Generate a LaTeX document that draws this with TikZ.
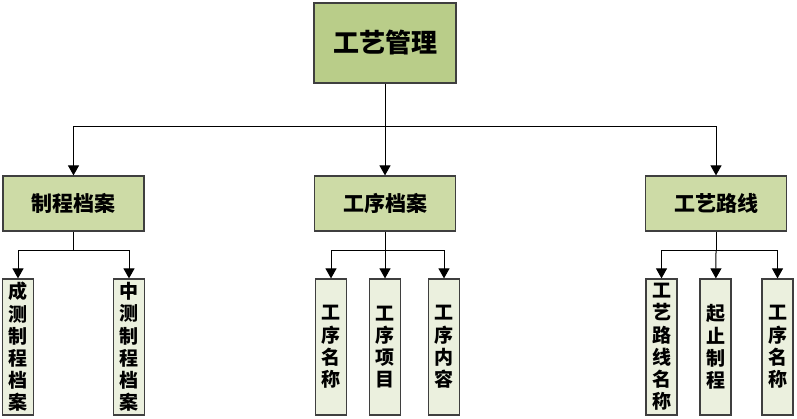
\documentclass[tikz,border=0pt]{standalone}
\usepackage{fontspec}
\newfontfamily\cjk{Noto Sans CJK SC}
\usepackage{tikz}
\usetikzlibrary{arrows.meta}

\definecolor{topgreen}{HTML}{B9CD89}
\definecolor{midgreen}{HTML}{CDDBA6}
\definecolor{leafgreen}{HTML}{EBF0DE}
\definecolor{boxline}{HTML}{3F3F3F}

\begin{document}
\begin{tikzpicture}[x=1pt, y=-1pt, >={Triangle[length=10pt,width=11pt]},
	rootbox/.style={draw=boxline, line width=1.2pt, fill=topgreen, minimum width=142pt, minimum height=80pt, inner sep=0pt, font=\cjk\bfseries\fontsize{26}{30}\selectfont},
	groupbox/.style={draw=boxline, line width=1.2pt, fill=midgreen, minimum width=141pt, minimum height=55pt, inner sep=0pt, font=\cjk\bfseries\fontsize{21}{25}\selectfont},
	leafbox/.style={draw=boxline, line width=1.2pt, fill=leafgreen, minimum width=31pt, minimum height=136pt, inner sep=0pt, align=center, font=\cjk\bfseries\fontsize{19}{22.2}\selectfont},
	link/.style={draw=black, line width=1pt}]
	\useasboundingbox (0,0) rectangle (797,419);

	% Nodes {root, groups, leaves}
	\node [rootbox]  (gygl) at (385,43)    {工艺管理};
	\node [groupbox] (zcda) at (73.5,203.5) {制程档案};
	\node [groupbox] (gxda) at (385,203.5)  {工序档案};
	\node [groupbox] (gylx) at (716,203.5)  {工艺路线};

	\node [leafbox] (ccda) at (18,347)    {成\\测\\制\\程\\档\\案};
	\node [leafbox] (zcdb) at (129,347)   {中\\测\\制\\程\\档\\案};
	\node [leafbox] (gxmc) at (331,347)   {工\\序\\名\\称};
	\node [leafbox] (gxxm) at (385,347)   {工\\序\\项\\目};
	\node [leafbox] (gxnr) at (444,347)   {工\\序\\内\\容};
	\node [leafbox] (lxmc) at (661.5,347) {工\\艺\\路\\线\\名\\称};
	\node [leafbox] (qzzc) at (715.5,347) {起\\止\\制\\程};
	\node [leafbox] (lxgx) at (777.5,347) {工\\序\\名\\称};

	% Branch points
	\coordinate (b0) at (385,127);
	\coordinate (b1) at (73.5,251);
	\coordinate (b2) at (385,251);
	\coordinate (b3) at (716,251);

	% Paths
	\draw [link]    (gygl) -- (b0);
	\draw [link,->] (b0) -| (zcda);
	\draw [link,->] (b0) -- (gxda);
	\draw [link,->] (b0) -| (gylx);

	\draw [link]    (zcda) -- (b1);
	\draw [link,->] (b1) -| (ccda);
	\draw [link,->] (b1) -| (zcdb);

	\draw [link]    (gxda) -- (b2);
	\draw [link,->] (b2) -| (gxmc);
	\draw [link,->] (b2) -- (gxxm);
	\draw [link,->] (b2) -| (gxnr);

	\draw [link]    (gylx) -- (b3);
	\draw [link,->] (b3) -| (lxmc);
	\draw [link,->] (b3) -- (qzzc);
	\draw [link,->] (b3) -| (lxgx);

\end{tikzpicture}
\end{document}
